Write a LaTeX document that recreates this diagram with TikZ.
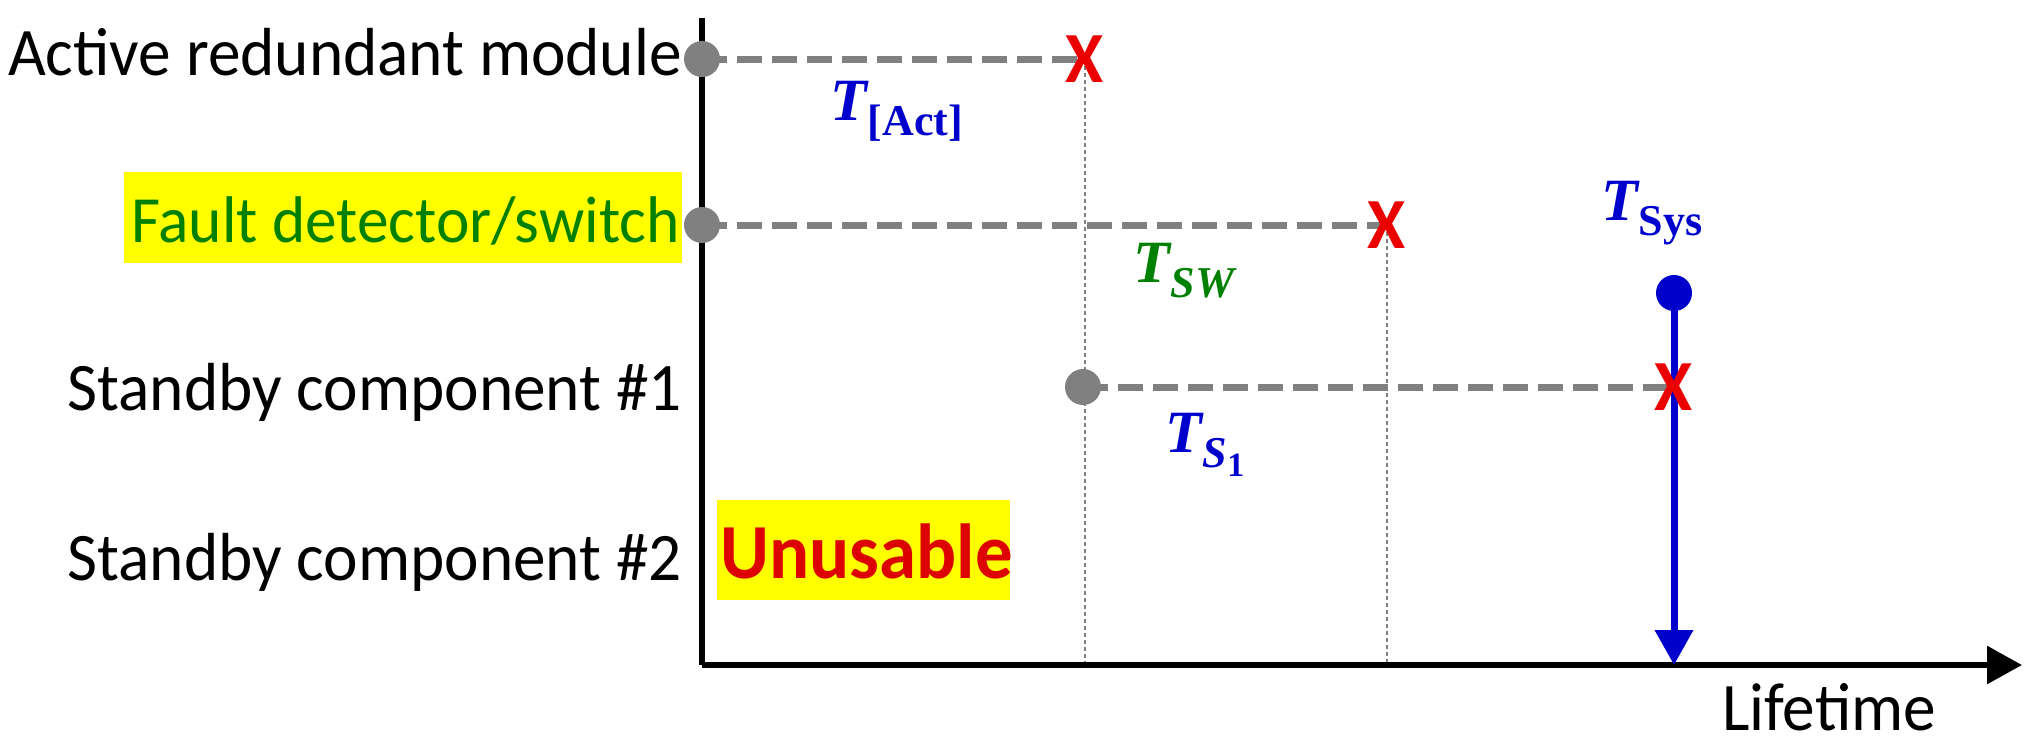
\documentclass[tikz,border=0pt]{standalone}
\usepackage{fontspec}
\setmainfont{Carlito}[FakeStretch=0.96]
\newfontfamily\serifb{Liberation Serif}
\usetikzlibrary{arrows.meta,backgrounds}
\definecolor{tblue}{RGB}{0,0,204}
\definecolor{tgreen}{RGB}{0,128,0}
\definecolor{tred}{RGB}{235,0,0}
\definecolor{ured}{RGB}{220,0,0}
\definecolor{tgray}{RGB}{128,128,128}
\definecolor{tyellow}{RGB}{255,255,0}
\newcommand{\Tsub}[1]{{\serifb\bfseries\itshape T}\kern1pt\raisebox{-15pt}{\fontsize{44}{44}\selectfont\serifb\bfseries #1}}
\tikzset{
  lbl/.style={inner sep=0pt, font=\fontsize{68}{70}\selectfont},
  gdot/.style={circle, fill=tgray, inner sep=0pt, minimum size=36pt},
  bdot/.style={circle, fill=tblue, inner sep=0pt, minimum size=36pt},
  xmark/.style={inner sep=0pt, text=tred, font=\fontsize{72}{72}\selectfont\bfseries},
  dashline/.style={draw=tgray, line width=7pt, dash pattern=on 25pt off 10pt},
  vdot/.style={draw=tgray, line width=2pt, dash pattern=on 4pt off 3pt},
  axisline/.style={draw=black, line width=6pt},
  tlab/.style={inner sep=0pt, font=\fontsize{60}{60}\selectfont},
  ybox/.style={fill=tyellow, inner sep=0pt, draw=none}
}
\begin{document}
\begin{tikzpicture}[x=1pt,y=-1pt]
\useasboundingbox (0,0) rectangle (2032,753);
% reference coordinates
\coordinate (top) at (702,18);
\coordinate (o) at (702,665);
\coordinate (tip) at (2022,665);
% yellow boxes
\node[ybox, minimum width=558pt, minimum height=91pt, anchor=north west] (fdbox) at (124,172) {};
\node[ybox, minimum width=293pt, minimum height=100pt, anchor=north west] (unbox) at (717,500) {};
% row labels
\node[lbl, anchor=base east] (l1) at (682,75) {Active redundant module};
\node[lbl, anchor=base east, text=tgreen, font=\fontsize{66}{70}\selectfont] (l2) at (680,242) {Fault detector/switch};
\node[lbl, anchor=base east] (l3) at (682,410) {Standby component \#1};
\node[lbl, anchor=base east] (l4) at (682,580) {Standby component \#2};
\node[lbl, anchor=base west, text=ured, font=\fontsize{78}{80}\selectfont\bfseries] (un) at (720,578) {Unusable};
\node[lbl, anchor=base west] (lt) at (1722,730) {Lifetime};
% dots
\node[gdot] (d1) at (702,59) {};
\node[gdot] (d2) at (702,225) {};
\node[gdot] (d3) at (1083,387) {};
\node[bdot] (bs) at (1674,293) {};
% failure marks
\node[xmark] (x1) at (1085,59) {X};
\node[xmark] (x2) at (1387,225) {X};
\node[xmark] (x3) at (1674,387) {X};
% time labels
\node[tlab, anchor=base west, text=tblue] (tact) at (830,120) {\Tsub{[Act]}};
\node[tlab, anchor=base west, text=tgreen] (tsw) at (1133,282) {\Tsub{\itshape SW}};
\node[tlab, anchor=base west, text=tblue] (ts1) at (1165,452) {\Tsub{\itshape S\upshape\raisebox{-9pt}{\fontsize{34}{34}\selectfont 1}}};
\node[tlab, anchor=base west, text=tblue] (tsys) at (1601,220) {\Tsub{Sys}};
\begin{scope}[on background layer]
  \draw[vdot] (x1.center) -- (x1.center |- o);
  \draw[vdot] (x2.center) -- (x2.center |- o);
  \draw[axisline] (top) -- (o);
  \draw[axisline, -{Triangle[length=35pt,width=37pt]}] (o) -- (tip);
  \draw[dashline] (d1.center) -- (x1.center);
  \draw[dashline] (d2.center) -- (x2.center);
  \draw[dashline] (d3.center) -- (x3.center);
  \draw[draw=tblue, line width=7pt, -{Triangle[length=35pt,width=37pt]}] (bs.center) -- (bs.center |- o);
\end{scope}
\end{tikzpicture}
\end{document}
